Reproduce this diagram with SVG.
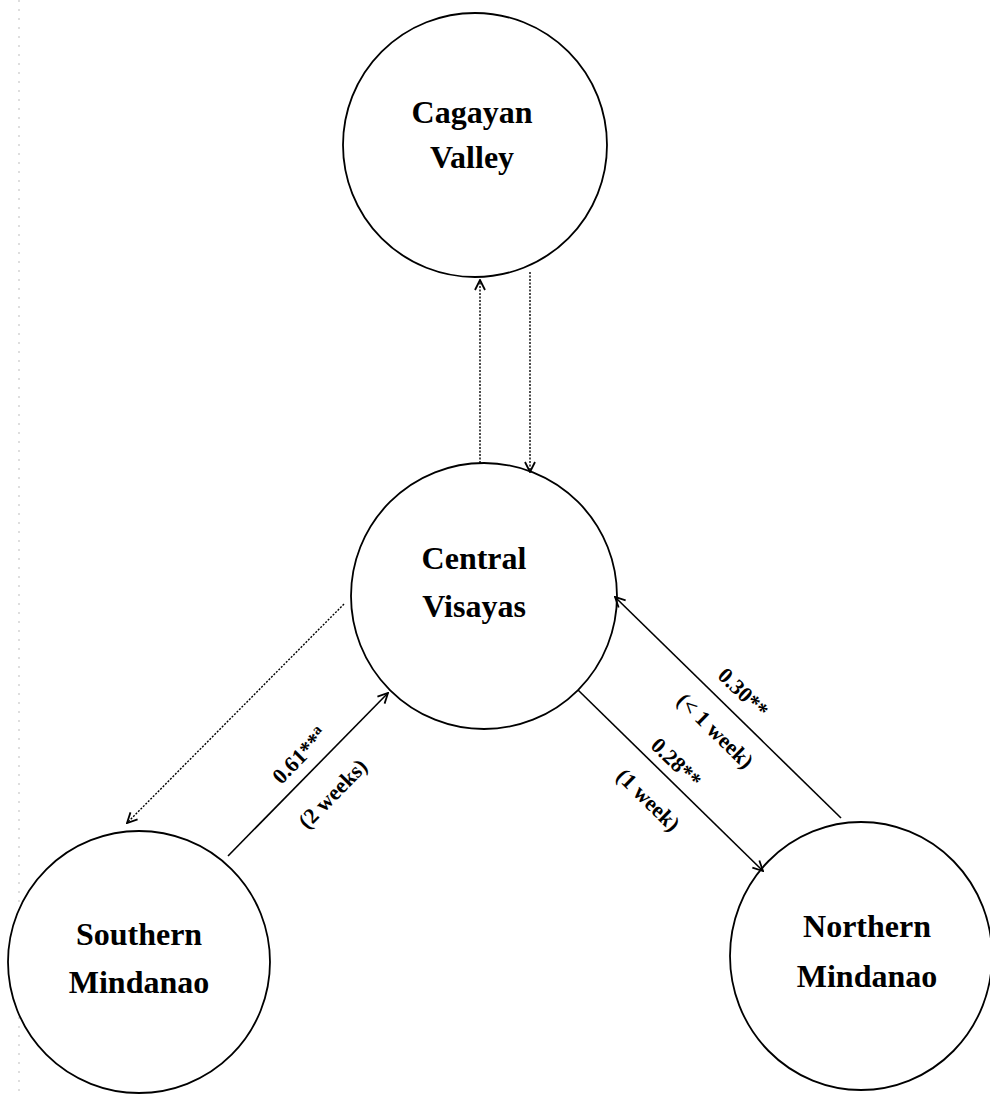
<svg xmlns="http://www.w3.org/2000/svg" width="990" height="1095" viewBox="0 0 990 1095">
<style>
.node{fill:#fff;stroke:#000;stroke-width:1.8}
.nt{font-family:"Liberation Serif","Times New Roman",serif;font-weight:bold;font-size:32px;text-anchor:middle;fill:#000}
.lb{font-family:"Liberation Serif","Times New Roman",serif;font-weight:bold;font-size:22px;text-anchor:middle;fill:#000}
.solid{stroke:#000;stroke-width:1.6;fill:none}
.dot{stroke:#000;stroke-width:1.4;fill:none;stroke-dasharray:2 1.5}
.scan{stroke:#bdbdbd;stroke-width:1;stroke-dasharray:2 7}
</style>
<defs>
<marker id="ah" viewBox="0 0 12 12" refX="11" refY="6" markerWidth="12" markerHeight="12" markerUnits="userSpaceOnUse" orient="auto">
<path d="M1,1 L11,6 L1,11" fill="none" stroke="#000" stroke-width="1.8"/>
</marker>
</defs>
<rect width="990" height="1095" fill="#fff"/>
<line class="scan" x1="19" y1="0" x2="19" y2="1095"/>
<g id="cagayan">
<circle class="node" cx="475" cy="145" r="132"/>
<text class="nt" x="472" y="123">Cagayan</text>
<text class="nt" x="472" y="168">Valley</text>
</g>
<g id="central">
<circle class="node" cx="484" cy="596" r="133"/>
<text class="nt" x="474" y="569">Central</text>
<text class="nt" x="474" y="617">Visayas</text>
</g>
<g id="southern">
<circle class="node" cx="139" cy="962" r="131"/>
<text class="nt" x="139" y="945">Southern</text>
<text class="nt" x="139" y="993">Mindanao</text>
</g>
<g id="northern">
<ellipse class="node" cx="861" cy="956" rx="131" ry="134"/>
<text class="nt" x="867" y="937">Northern</text>
<text class="nt" x="867" y="987">Mindanao</text>
</g>
<g id="connectors">
<line class="dot" x1="480" y1="463" x2="480" y2="280" marker-end="url(#ah)"/>
<line class="dot" x1="530" y1="272" x2="530" y2="472" marker-end="url(#ah)"/>
<line class="dot" x1="344" y1="604" x2="127" y2="823" marker-end="url(#ah)"/>
<line class="solid" x1="228" y1="856" x2="388" y2="693" marker-end="url(#ah)"/>
<line class="solid" x1="578" y1="690" x2="763" y2="871" marker-end="url(#ah)"/>
<line class="solid" x1="841" y1="818" x2="615" y2="597" marker-end="url(#ah)"/>
<g transform="translate(300,756) rotate(-45.5)"><text class="lb" y="7">0.61**<tspan font-size="15" dy="-9">a</tspan></text></g>
<g transform="translate(333,794) rotate(-45.5)"><text class="lb" y="7">(2 weeks)</text></g>
<g transform="translate(743,693) rotate(44.4)"><text class="lb" y="7">0.30**</text></g>
<g transform="translate(715,731) rotate(44.4)"><text class="lb" y="7">(&lt; 1 week)</text></g>
<g transform="translate(676,763) rotate(44.4)"><text class="lb" y="7">0.28**</text></g>
<g transform="translate(648,800) rotate(44.4)"><text class="lb" y="7">(1 week)</text></g>
</g>
</svg>
